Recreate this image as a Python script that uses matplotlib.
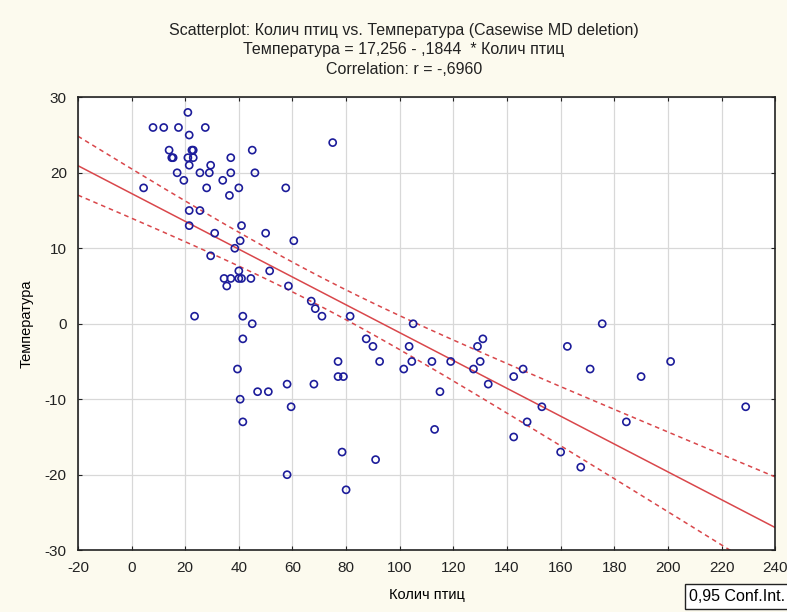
"""Scatterplot: bird count vs temperature with regression line and 95% band."""
import numpy as np
import matplotlib
matplotlib.use("Agg")
import matplotlib.pyplot as plt

# ── Data ──────────────────────────────────────────────────────────────
birds = [
    21, 8, 12, 17.5, 27.5, 21.5, 14, 22.5, 23, 45, 15, 15.5, 21, 23, 37, 21.5,
    29.5, 17, 25.5, 29, 37, 46, 19.5, 34, 4.5, 28, 40, 36.5, 21.5, 25.5, 21.5,
    41, 31, 50, 40.5, 38.5, 29.5, 51.5, 40, 34.5, 37, 40, 41, 44.5, 35.5, 23.5,
    41.5, 45, 41.5, 39.5, 47, 51, 40.5, 41.5,
    75, 57.5, 60.5, 58.5, 67, 68.5, 71, 81.5, 105, 87.5, 90, 103.5, 131, 129,
    77, 92.5, 104.5, 112, 119, 130, 101.5, 127.5, 146, 77, 79, 142.5, 58, 68,
    133, 115, 59.5, 147.5, 113, 142.5, 78.5, 91, 58, 80,
    175.5, 162.5, 171, 201, 190, 153, 184.5, 160, 167.5, 229,
]
temps = [
    28, 26, 26, 26, 26, 25, 23, 23, 23, 23, 22, 22, 22, 22, 22, 21,
    21, 20, 20, 20, 20, 20, 19, 19, 18, 18, 18, 17, 15, 15, 13,
    13, 12, 12, 11, 10, 9, 7, 7, 6, 6, 6, 6, 6, 5, 1,
    1, 0, -2, -6, -9, -9, -10, -13,
    24, 18, 11, 5, 3, 2, 1, 1, 0, -2, -3, -3, -2, -3,
    -5, -5, -5, -5, -5, -5, -6, -6, -6, -7, -7, -7, -8, -8,
    -8, -9, -11, -13, -14, -15, -17, -18, -20, -22,
    0, -3, -6, -5, -7, -11, -13, -17, -19, -11,
]

# regression from the chart title
INTERCEPT = 17.256
SLOPE = -0.1844
R_VALUE = "-,6960"
T_CRIT = 1.98  # t(0.975, df ~ 100)

x_ticks = list(range(-20, 241, 20))
y_ticks = list(range(-30, 31, 10))

# ── Regression band ───────────────────────────────────────────────────
x = np.asarray(birds, dtype=float)
y = np.asarray(temps, dtype=float)
n = len(x)
resid = y - (INTERCEPT + SLOPE * x)
s = np.sqrt(np.sum(resid ** 2) / (n - 2))
sxx = np.sum((x - x.mean()) ** 2)

xs = np.linspace(-20, 240, 300)
fit = INTERCEPT + SLOPE * xs
half = T_CRIT * s * np.sqrt(1.0 / n + (xs - x.mean()) ** 2 / sxx)

# ── Plot ──────────────────────────────────────────────────────────────
plt.rcParams["font.family"] = ["Liberation Sans", "DejaVu Sans"]
plt.rcParams["axes.unicode_minus"] = False

fig = plt.figure(figsize=(7.87, 6.12), dpi=100, facecolor="#fcfaee")
ax = fig.add_axes([0.099, 0.101, 0.886, 0.740])
ax.set_facecolor("white")

ax.scatter(x, y, s=26, facecolors="none", edgecolors="#1c1c9a",
           linewidths=1.2, zorder=3)
line_col = "#d9474b"
ax.plot(xs, fit, color=line_col, lw=1.1, zorder=2)
ax.plot(xs, fit + half, color=line_col, lw=1.1, ls=(0, (3, 2.5)), zorder=2)
ax.plot(xs, fit - half, color=line_col, lw=1.1, ls=(0, (3, 2.5)), zorder=2)

ax.set_xlim(-20, 240)
ax.set_ylim(-30, 30)
ax.set_xticks(x_ticks)
ax.set_yticks(y_ticks)
ax.grid(True, color="#d8d8d8", lw=0.9)
ax.set_axisbelow(True)
ax.tick_params(labelsize=11, length=3, direction="in", top=True, right=True,
               colors="#222222")
ax.tick_params(axis="x", pad=8)
ax.tick_params(axis="y", pad=8)
for sp in ax.spines.values():
    sp.set_color("#222222")
    sp.set_linewidth(1.2)

ax.set_xlabel("Колич птиц", fontsize=10.5, labelpad=9)
ax.set_ylabel("Температура", fontsize=10.5, labelpad=8)

title = ("Scatterplot: Колич птиц vs. Температура (Casewise MD deletion)\n"
         "Температура = 17,256 - ,1844  * Колич птиц\n"
         f"Correlation: r = {R_VALUE}")
fig.text(0.513, 0.962, title, ha="center", va="top", fontsize=11.5,
         linespacing=1.35, color="#222222")

fig.text(0.876, 0.013, "0,95 Conf.Int.", fontsize=11.5, ha="left", va="bottom",
         bbox=dict(boxstyle="square,pad=0.3", facecolor="white",
                   edgecolor="#222222", lw=1.0))

fig.savefig("out.png", dpi=100, facecolor=fig.get_facecolor())
